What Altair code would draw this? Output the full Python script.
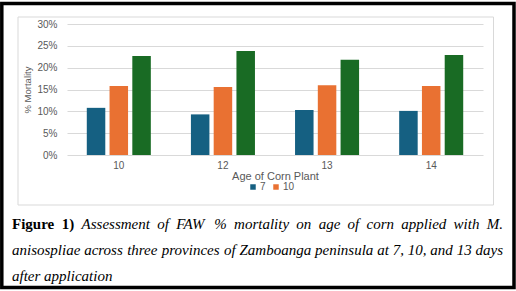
import altair as alt
import pandas as pd

# Age of corn plant (days) on the x axis
ages = ["10", "12", "13", "14"]
# Days after application (legend series)
series = ["7", "10", "13"]
# % mortality per series, one value per age
mort_7 = [10.8, 9.3, 10.3, 10.1]
mort_10 = [15.8, 15.6, 16.0, 15.8]
mort_13 = [22.7, 23.8, 21.8, 22.9]
colors = ["#156082", "#E97132", "#196B24"]

caption_bold = "Figure 1)"
caption_lines = [
    "Assessment of FAW % mortality on age of corn applied with M.",
    "anisospliae across three provinces of Zamboanga peninsula at 7, 10, and 13 days",
    "after application",
]

rows = []
for s, vals in zip(series, [mort_7, mort_10, mort_13]):
    for a, v in zip(ages, vals):
        rows.append({"age": a, "days": s, "mortality": v / 100})
df = pd.DataFrame(rows)

W, H = 416, 131
LEFT, TOP = 67, 24
GRAY = "#595959"
SANS = "Liberation Sans"
SERIF = "Liberation Serif"
CAP_SIZE = 15

# Times-metric advance widths (1/1000 em) used to justify the caption
ITALIC_W = {
    " ": 250, "%": 833, ",": 250, ".": 250, ")": 333,
    "A": 611, "F": 611, "M": 833, "W": 833, "Z": 556,
    "a": 500, "b": 500, "c": 444, "d": 500, "e": 444, "f": 278, "g": 500,
    "h": 500, "i": 278, "l": 278, "m": 722, "n": 500, "o": 500, "p": 500,
    "r": 389, "s": 389, "t": 278, "u": 500, "v": 444, "w": 667, "y": 444,
}
BOLD_W = {"F": 611, "i": 278, "g": 500, "u": 556, "r": 444, "e": 444,
          "1": 500, ")": 333, " ": 250}


def text_width(word, table):
    return sum(table.get(c, 500) for c in word) * CAP_SIZE / 1000


def justify(words, x0, x1):
    """words: list of (text, bold). Returns left x of each word."""
    widths = [text_width(w, BOLD_W if b else ITALIC_W) for w, b in words]
    gap = (x1 - x0 - sum(widths)) / (len(words) - 1)
    xs, x = [], x0
    for wd in widths:
        xs.append(x)
        x += wd + gap
    return xs


LINE_L, LINE_R = 12, 503
word_rows = []
line1 = [(w, True) for w in caption_bold.split(" ")] + \
        [(w, False) for w in caption_lines[0].split(" ")]
line2 = [(w, False) for w in caption_lines[1].split(" ")]
for i, words in enumerate([line1, line2]):
    for (w, b), x in zip(words, justify(words, LINE_L, LINE_R)):
        word_rows.append({"w": w, "bold": b, "px": x - LEFT, "py": 205 + 26 * i})
word_rows.append({"w": caption_lines[2], "bold": False, "px": LINE_L - LEFT, "py": 257})
words_df = pd.DataFrame(word_rows)

bars = alt.Chart(df).mark_bar().encode(
    x=alt.X(
        "age:N",
        sort=ages,
        scale=alt.Scale(paddingInner=0.385, paddingOuter=0.19),
        axis=alt.Axis(
            title="Age of Corn Plant",
            labelAngle=0,
            labelFont=SANS,
            labelFontSize=10,
            labelColor=GRAY,
            labelPadding=5,
            titleFont=SANS,
            titleFontSize=11,
            titleFontWeight="normal",
            titleColor=GRAY,
            titleY=21,
            titleBaseline="middle",
            domain=False,
            ticks=False,
            grid=False,
        ),
    ),
    xOffset=alt.XOffset(
        "days:N", sort=series, scale=alt.Scale(paddingInner=0.187, paddingOuter=0)
    ),
    y=alt.Y(
        "mortality:Q",
        scale=alt.Scale(domain=[0, 0.30], nice=False),
        axis=alt.Axis(
            title="% Mortality",
            format=".0%",
            values=[0, 0.05, 0.10, 0.15, 0.20, 0.25, 0.30],
            labelFont=SANS,
            labelFontSize=10,
            labelColor=GRAY,
            labelPadding=10,
            titleFont=SANS,
            titleFontSize=9.5,
            titleFontWeight="normal",
            titleColor=GRAY,
            titleX=-35,
            titleY=H / 2,
            domain=False,
            ticks=False,
            gridColor="#d9d9d9",
            gridWidth=1,
        ),
    ),
    color=alt.Color(
        "days:N",
        sort=series,
        scale=alt.Scale(domain=series, range=colors),
        legend=alt.Legend(
            title=None,
            values=["7", "10"],
            orient="none",
            direction="horizontal",
            legendX=181,
            legendY=158,
            symbolType="square",
            symbolSize=30,
            symbolStrokeWidth=0,
            labelFont=SANS,
            labelFontSize=10,
            labelColor=GRAY,
            labelOffset=2,
            columnPadding=5,
            padding=0,
        ),
    ),
)

one = pd.DataFrame({"k": [0]})

inner_frame = alt.Chart(one).mark_rect(
    fill=None, stroke="#d9d9d9", strokeWidth=1
).encode(
    x=alt.value(-49), x2=alt.value(426.5), y=alt.value(-7), y2=alt.value(181)
)

outer_frame = alt.Chart(one).mark_rect(
    fill=None, stroke="black", strokeWidth=3.5
).encode(
    x=alt.value(-65.2), x2=alt.value(447), y=alt.value(-20.5), y2=alt.value(263.5)
)

cap_base = alt.Chart(words_df).encode(
    text="w:N",
    x=alt.X("px:Q", scale=None),
    y=alt.Y("py:Q", scale=None),
)
cap_bold = cap_base.transform_filter("datum.bold").mark_text(
    align="left", baseline="alphabetic", font=SERIF, fontSize=CAP_SIZE,
    fontWeight="bold", color="black"
)
cap_italic = cap_base.transform_filter("!datum.bold").mark_text(
    align="left", baseline="alphabetic", font=SERIF, fontSize=CAP_SIZE,
    fontStyle="italic", color="black"
)

chart = alt.layer(
    outer_frame, inner_frame, bars, cap_bold, cap_italic
).properties(
    width=W,
    height=H,
    autosize=alt.AutoSizeParams(type="none"),
    padding={"left": LEFT, "top": TOP, "right": 33, "bottom": 136},
    background="white",
).configure_view(stroke=None)

chart.save("out.html", embed_options={"renderer": "svg", "actions": False})
